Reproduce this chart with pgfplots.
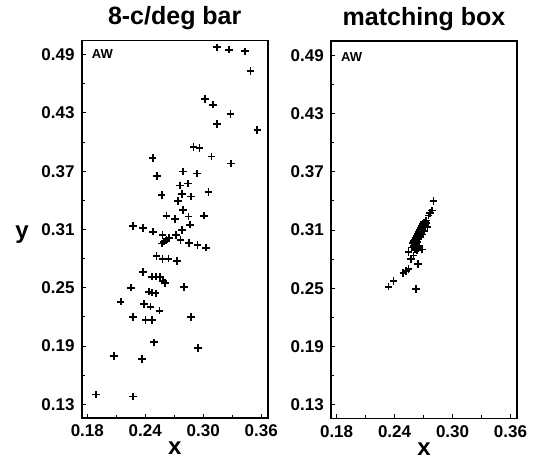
\documentclass[border=0pt]{standalone}
\usepackage{fontspec}
\setmainfont{Liberation Sans}
\usepackage{pgfplots}
\pgfplotsset{compat=1.18}
\pgfplotsset{
  panel/.style={
    scale only axis, anchor=south west,
    width=186pt, height=377pt,
    xmin=0.1742, xmax=0.3667, ymin=0.1162, ymax=0.5044,
    axis line style={line width=1.6pt},
    xtick={0.18,0.24,0.30,0.36}, xticklabels={0.18,0.24,0.30,0.36},
    minor xtick={0.21,0.27,0.33},
    ytick={0.13,0.19,0.25,0.31,0.37,0.43,0.49},
    yticklabels={0.13,0.19,0.25,0.31,0.37,0.43,0.49},
    minor ytick={0.16,0.22,0.28,0.34,0.40,0.46},
    tick align=inside, xtick pos=bottom, ytick pos=left,
    major tick length=4pt, minor tick length=3pt,
    every tick/.style={line width=1pt, black},
    tick label style={font=\fontsize{17}{17}\selectfont\bfseries},
    xticklabel style={anchor=north, inner sep=0pt, yshift=-7pt},
    yticklabel style={anchor=east, inner sep=0pt, xshift=-7pt},
    title style={font=\fontsize{25}{25}\selectfont\bfseries, at={(0.5,1)}, anchor=base, yshift=10pt},
    xlabel=x,
    xlabel style={font=\fontsize{24}{24}\selectfont\bfseries, at={(0.5,0)}, anchor=base, yshift=-37pt},
    clip=false,
  },
  pts/.style={only marks, mark=+, mark size=3.8pt, mark options={line width=1.8pt, black}},
}
\begin{document}
\begin{tikzpicture}[x=1pt,y=1pt]
\path[use as bounding box] (0,0) rectangle (534,459);
\begin{axis}[panel, at={(81.7pt,41.3pt)}, title={8-c/deg bar}]
\addplot[pts] coordinates {
(0.3143,0.4975) (0.3266,0.4952) (0.3432,0.4934) (0.3490,0.4735)
(0.3016,0.4446) (0.3098,0.4385) (0.3281,0.4289) (0.3140,0.4186)
(0.3560,0.4127) (0.2899,0.3948) (0.2961,0.3938) (0.3085,0.3851)
(0.2476,0.3835) (0.3288,0.3779) (0.2523,0.3652) (0.2792,0.3697)
(0.2936,0.3676) (0.2758,0.3553) (0.2843,0.3573) (0.2569,0.3457)
(0.2781,0.3467) (0.2874,0.3439) (0.3054,0.3488) (0.2737,0.3392)
(0.2792,0.3299) (0.2620,0.3243) (0.2706,0.3209) (0.2847,0.3233)
(0.3005,0.3243) (0.2275,0.3137) (0.2379,0.3113) (0.2864,0.3150)
(0.2778,0.3093) (0.2482,0.3078) (0.2579,0.3044) (0.2716,0.3044)
(0.2647,0.3010) (0.2620,0.2993) (0.2595,0.2975) (0.2575,0.2955)
(0.2765,0.2993) (0.2854,0.2962) (0.2940,0.2938) (0.3026,0.2913)
(0.2517,0.2828) (0.2579,0.2797) (0.2641,0.2800) (0.2730,0.2773)
(0.2379,0.2660) (0.2471,0.2614) (0.2510,0.2614) (0.2551,0.2614)
(0.2585,0.2573) (0.2603,0.2546) (0.2251,0.2501) (0.2799,0.2505)
(0.2441,0.2460) (0.2471,0.2450) (0.2507,0.2443) (0.2145,0.2357)
(0.2389,0.2333) (0.2455,0.2306) (0.2548,0.2264) (0.2275,0.2202)
(0.2403,0.2168) (0.2471,0.2168) (0.2871,0.2202) (0.2489,0.1938)
(0.2947,0.1882) (0.2076,0.1797) (0.2368,0.1766) (0.1887,0.1402)
(0.2275,0.1381)
};
\node[anchor=north west, inner sep=0pt, font=\fontsize{13}{13}\selectfont\bfseries, xshift=10pt, yshift=-9pt] at (rel axis cs:0,1) {AW};
\end{axis}
\begin{axis}[panel, at={(331pt,40.7pt)}, title={matching box}]
\addplot[pts] coordinates {
(0.2803,0.3398) (0.2786,0.3302) (0.2769,0.3274) (0.2751,0.3250) (0.2724,0.3199)
(0.2720,0.3195) (0.2705,0.3180) (0.2730,0.3170) (0.2690,0.3160) (0.2715,0.3150)
(0.2680,0.3140) (0.2700,0.3130) (0.2740,0.3135) (0.2670,0.3120) (0.2690,0.3110)
(0.2660,0.3100) (0.2680,0.3095) (0.2710,0.3090) (0.2650,0.3080) (0.2670,0.3070)
(0.2640,0.3060) (0.2660,0.3050) (0.2690,0.3055) (0.2630,0.3040) (0.2650,0.3030)
(0.2620,0.3020) (0.2640,0.3010) (0.2610,0.3000) (0.2600,0.2985) (0.2630,0.2980)
(0.2590,0.2965) (0.2620,0.2955) (0.2650,0.2940) (0.2600,0.2935) (0.2580,0.2920)
(0.2610,0.2905) (0.2630,0.2895) (0.2682,0.2900) (0.2647,0.2917)
(0.2543,0.2872) (0.2595,0.2838) (0.2571,0.2804) (0.2641,0.2752)
(0.2543,0.2701) (0.2516,0.2676) (0.2491,0.2656) (0.2388,0.2573)
(0.2336,0.2518) (0.2620,0.2495)
};
\node[anchor=north west, inner sep=0pt, font=\fontsize{13}{13}\selectfont\bfseries, xshift=10pt, yshift=-11pt] at (rel axis cs:0,1) {AW};
\end{axis}
\node[anchor=base, inner sep=0pt, font=\fontsize{24}{24}\selectfont\bfseries] at (22,221) {y};
\end{tikzpicture}
\end{document}
